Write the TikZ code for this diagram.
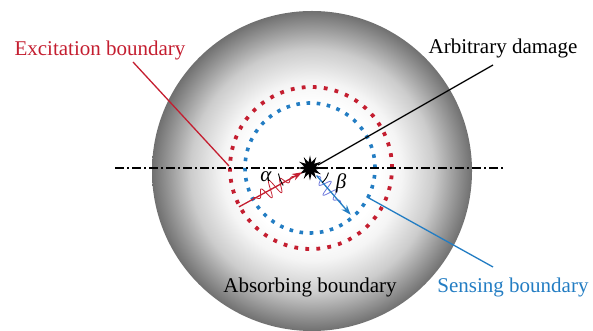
\documentclass[tikz,border=0pt]{standalone}
\usepackage{fontspec}
\setmainfont{Liberation Serif}
\usetikzlibrary{shapes.geometric,arrows.meta}
\definecolor{exred}{RGB}{196,30,48}
\definecolor{exblue}{RGB}{35,125,195}
\definecolor{wavblue}{RGB}{110,120,220}
\pgfdeclareradialshading{ballshade}{\pgfpoint{0bp}{0bp}}{rgb(0bp)=(1,1,1); rgb(10.5bp)=(1,1,1); rgb(14bp)=(0.96,0.96,0.96); rgb(19bp)=(0.8,0.8,0.8); rgb(25bp)=(0.44,0.44,0.44); rgb(50bp)=(0.44,0.44,0.44)}
\tikzset{
  lbl/.style={font=\fontsize{21}{25}\selectfont, inner sep=1pt},
  ptr/.style={line width=1.3pt},
  reddots/.style={exred, line width=3.8pt, dash pattern=on 3.8pt off 7.26pt},
  bluedots/.style={exblue, line width=3.6pt, dash pattern=on 3.6pt off 6.6pt},
  axisline/.style={line width=1.1pt, dash pattern=on 9pt off 3pt on 2pt off 3pt},
  tipS/.style={-{Stealth[length=10pt,width=7pt]}}
}
\begin{document}
\begin{tikzpicture}[x=1pt,y=1pt]
\useasboundingbox (0,0) rectangle (593,331);
% absorbing body
\shade[shading=ballshade] (312,160) circle (160);
% boundaries
\draw[reddots] (311,163) circle (81);
\draw[bluedots] (310,163) circle (65);
% axis
\coordinate (axL) at (115,163);
\coordinate (axR) at (505,163);
\draw[axisline] (axL) -- (axR);
% damage
\node[star, star points=12, star point ratio=2.1, fill=black, minimum size=25pt, inner sep=0pt] (dmg) at (310,163) {};
% waves
\begin{scope}[shift={(310,163)}, rotate=208.7]
  \draw[exred, line width=0.8pt, domain=15:64, samples=200, smooth]
    plot (\x, {9*exp(-((\x-42)/15)^2)*sin(32*\x)});
\end{scope}
\begin{scope}[shift={(310,163)}, rotate=-49]
  \draw[wavblue, line width=0.8pt, domain=11:48, samples=200, smooth]
    plot (\x, {8*exp(-((\x-28)/12)^2)*sin(34*\x)});
\end{scope}
% incident and sensed arrows
\path (310,163) ++(208.7:81) coordinate (rs);
\path (310,163) ++(208.7:9) coordinate (re);
\path (310,163) ++(-49:10) coordinate (bs);
\path (310,163) ++(-49:62) coordinate (be);
\draw[exred, ptr, tipS] (rs) -- (re);
\draw[exblue, ptr, tipS] (bs) -- (be);
% angle arcs
\draw[line width=0.9pt] (310,163) ++(190:32) arc (190:213:32);
\draw[line width=0.9pt] (310,163) ++(-14:19) arc (-14:-50:19);
\node[lbl, font=\fontsize{21}{25}\selectfont\itshape] (alpha) at (266,154) {α};
\node[lbl, font=\fontsize{21}{25}\selectfont\itshape] (beta) at (341,148) {β};
% labels
\node[lbl, text=exred] (exlab) at (100,281) {Excitation boundary};
\node[lbl] (dmglab) at (503,283) {Arbitrary damage};
\node[lbl] (abslab) at (310,44) {Absorbing boundary};
\node[lbl, text=exblue] (senslab) at (513,44) {Sensing boundary};
% pointers
\coordinate (exA) at (133,269);
\coordinate (exB) at (229,165);
\draw[exred, ptr] (exA) -- (exB);
\coordinate (dA) at (493,266);
\coordinate (dB) at (318,166);
\draw[ptr] (dA) -- (dB);
\coordinate (sA) at (493,64);
\coordinate (sB) at (367,134);
\draw[exblue, ptr] (sA) -- (sB);
\end{tikzpicture}
\end{document}
